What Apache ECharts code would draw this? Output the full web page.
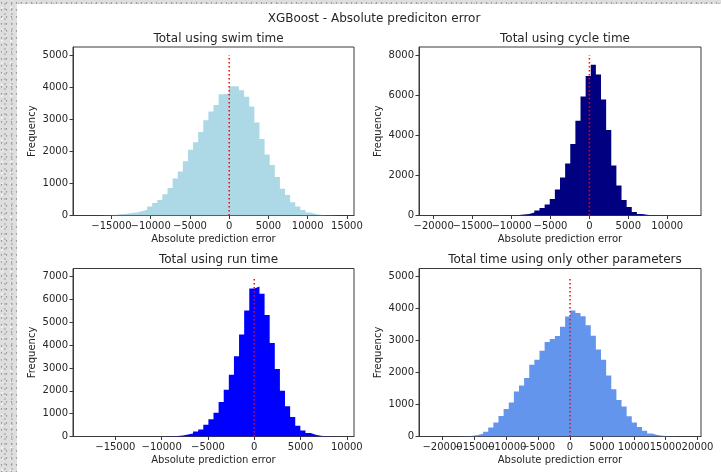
<!DOCTYPE html>
<html>
<head>
<meta charset="utf-8">
<script src="https://cdn.jsdelivr.net/npm/echarts@6/dist/echarts.min.js"></script>
<style>
  html, body { margin: 0; padding: 0; }
  body {
    width: 721px; height: 472px; overflow: hidden; position: relative;
    background-color: #dedede;
    background-image:
      radial-gradient(circle at 30% 40%, #9c9c9c 0.6px, transparent 1.1px),
      radial-gradient(circle at 70% 80%, #b4b4b4 0.6px, transparent 1.1px),
      radial-gradient(circle at 20% 70%, #f4f4f4 0.8px, transparent 1.3px);
    background-size: 5px 7px, 7px 5px, 9px 11px;
  }
  #sheet { position: absolute; left: 17px; top: 4px; width: 704px; height: 468px; background: #fff; }
  #chart { position: absolute; left: 0; top: 0; width: 721px; height: 472px; }
</style>
</head>
<body>
<div id="sheet"></div>
<div id="chart"></div>
<script>
// Outer bin edges [first, last] and 50 bin counts for each histogram
const swimEdges = [-18273, 14273];
const swimCounts = [
  0, 0, 2, 5, 10, 25, 40, 55, 75, 95,
  130, 180, 280, 390, 480, 660, 860, 1150, 1370, 1690,
  2050, 2280, 2600, 2970, 3240, 3440, 3780, 3800, 4030, 4020,
  3900, 3700, 3400, 2900, 2380, 1900, 1570, 1200, 830, 640,
  410, 280, 170, 90, 45, 20, 10, 5, 2, 1
];

const cycleEdges = [-20242, 12689];
const cycleCounts = [
  1, 0, 0, 1, 1, 1, 1, 1, 1, 1,
  1, 1, 2, 4, 8, 15, 30, 50, 80, 150,
  250, 370, 550, 820, 1290, 1900, 2590, 3570, 4720, 5930,
  6960, 7520, 7030, 5780, 4260, 2490, 1500, 770, 420, 180,
  80, 35, 15, 7, 3, 2, 1, 0, 0, 1
];

const runEdges = [-18196, 9396];
const runCounts = [
  1, 0, 0, 1, 1, 1, 1, 1, 1, 1,
  1, 1, 1, 2, 3, 6, 12, 25, 45, 90,
  130, 220, 310, 510, 750, 1040, 1510, 2050, 2700, 3510,
  4460, 5510, 6480, 6560, 6240, 5320, 4090, 2950, 2000, 1320,
  850, 470, 260, 150, 75, 35, 15, 6, 3, 1
];

const otherEdges = [-21679, 18535];
const otherCounts = [
  1, 0, 1, 1, 2, 5, 10, 20, 45, 85,
  150, 280, 440, 640, 860, 1060, 1410, 1590, 1830, 2240,
  2400, 2680, 2950, 3050, 3140, 3430, 3750, 3935, 3860, 3760,
  3475, 3150, 2720, 2400, 1910, 1480, 1140, 940, 630, 440,
  300, 180, 95, 50, 25, 10, 5, 2, 1, 1
];

// Axis limits and tick values
const swimXLim = [-19900, 15900];
const cycleXLim = [-21888, 14335];
const runXLim = [-19576, 10776];
const otherXLim = [-23690, 20545];

const swimXTicks = [-15000, -10000, -5000, 0, 5000, 10000, 15000];
const cycleXTicks = [-20000, -15000, -10000, -5000, 0, 5000, 10000];
const runXTicks = [-15000, -10000, -5000, 0, 5000, 10000];
const otherXTicks = [-20000, -15000, -10000, -5000, 0, 5000, 10000, 15000, 20000];

const swimYTicks = [0, 1000, 2000, 3000, 4000, 5000];
const cycleYTicks = [0, 2000, 4000, 6000, 8000];
const runYTicks = [0, 1000, 2000, 3000, 4000, 5000, 6000, 7000];
const otherYTicks = [0, 1000, 2000, 3000, 4000, 5000];

// Height of the zero reference line in each panel
const zeroLineTop = [5000, 8000, 7000, 5000];

const panelTitles = [
  'Total using swim time',
  'Total using cycle time',
  'Total using run time',
  'Total time using only other parameters'
];
const figureTitle = 'XGBoost - Absolute prediciton error';

const FONT = 'DejaVu Sans';
const INK = '#262626';
const SPINE = '#3a3a3a';

const panels = [
  { edges: swimEdges, counts: swimCounts, xlim: swimXLim, xt: swimXTicks, yt: swimYTicks, ymax: 5250, color: '#ADD8E6',
    grid: { left: 73, top: 47, width: 281, height: 168.5 }, titleTop: 28 },
  { edges: cycleEdges, counts: cycleCounts, xlim: cycleXLim, xt: cycleXTicks, yt: cycleYTicks, ymax: 8400, color: '#000080',
    grid: { left: 419, top: 47, width: 282, height: 168.5 }, titleTop: 28 },
  { edges: runEdges, counts: runCounts, xlim: runXLim, xt: runXTicks, yt: runYTicks, ymax: 7350, color: '#0000FF',
    grid: { left: 73, top: 268.5, width: 281, height: 168 }, titleTop: 249 },
  { edges: otherEdges, counts: otherCounts, xlim: otherXLim, xt: otherXTicks, yt: otherYTicks, ymax: 5250, color: '#6495ED',
    grid: { left: 419, top: 268.5, width: 282, height: 168 }, titleTop: 249 }
];

// Step outline of a histogram: down the left edge, across each bin top, back to the baseline
function stepOutline(edges, counts) {
  const w = (edges[1] - edges[0]) / counts.length;
  const pts = [[edges[0], 0]];
  counts.forEach((c, i) => {
    pts.push([edges[0] + i * w, c]);
    pts.push([edges[0] + (i + 1) * w, c]);
  });
  pts.push([edges[1], 0]);
  return pts;
}

const fmt = v => (v < 0 ? '\u2212' + Math.abs(v) : String(v));

const grids = [], xAxes = [], yAxes = [], series = [], titles = [];

titles.push({
  text: figureTitle, left: 369, top: 8, textAlign: 'center',
  textStyle: { fontFamily: FONT, fontSize: 12, fontWeight: 'normal', color: INK }
});

function bottomAxis(p, i, values, withName) {
  return {
    type: 'value', gridIndex: i, position: 'bottom', offset: 0, min: p.xlim[0], max: p.xlim[1],
    name: withName ? 'Absolute prediction error' : '', nameLocation: 'middle', nameGap: 19,
    nameTextStyle: { fontFamily: FONT, fontSize: 10, color: INK },
    axisLine: { show: withName, onZero: false, lineStyle: { color: SPINE, width: 1 } },
    axisTick: { show: true, customValues: values, length: 3.5, lineStyle: { color: SPINE, width: 1 } },
    axisLabel: { customValues: values, formatter: fmt, margin: 5.5, fontFamily: FONT, fontSize: 10, color: INK,
                 hideOverlap: false, showMinLabel: true, showMaxLabel: true },
    splitLine: { show: false }
  };
}

panels.forEach((p, i) => {
  grids.push(Object.assign({ show: true, borderColor: SPINE, borderWidth: 1, backgroundColor: 'transparent' }, p.grid));
  titles.push({
    text: panelTitles[i], left: p.grid.left + p.grid.width / 2, top: p.titleTop, textAlign: 'center',
    textStyle: { fontFamily: FONT, fontSize: 12, fontWeight: 'normal', color: INK }
  });

  // Alternate tick labels go on two coincident bottom axes so that touching labels all stay visible
  const xIdx = xAxes.length;
  xAxes.push(bottomAxis(p, i, p.xt.filter((v, k) => k % 2 === 0), true));
  xAxes.push(bottomAxis(p, i, p.xt.filter((v, k) => k % 2 === 1), false));

  yAxes.push({
    type: 'value', gridIndex: i, min: 0, max: p.ymax,
    name: 'Frequency', nameLocation: 'middle', nameGap: 36, nameRotate: 90,
    nameTextStyle: { fontFamily: FONT, fontSize: 10, color: INK },
    axisLine: { show: true, onZero: false, lineStyle: { color: SPINE, width: 1 } },
    axisTick: { show: true, customValues: p.yt, length: 3.5, lineStyle: { color: SPINE, width: 1 } },
    axisLabel: { customValues: p.yt, formatter: fmt, margin: 5, fontFamily: FONT, fontSize: 10, color: INK,
                 showMinLabel: true, showMaxLabel: true },
    splitLine: { show: false }
  });

  series.push({
    type: 'line', xAxisIndex: xIdx, yAxisIndex: i, symbol: 'none', silent: true, z: 2,
    data: stepOutline(p.edges, p.counts),
    lineStyle: { width: 0 },
    areaStyle: { color: p.color, opacity: 1, origin: 'start' }
  });
  series.push({
    type: 'line', xAxisIndex: xIdx, yAxisIndex: i, symbol: 'none', silent: true, z: 5,
    data: [[0, 0], [0, zeroLineTop[i]]],
    lineStyle: { color: '#FF0000', width: 1.5, type: [1.5, 2.5] }
  });
});

const chart = echarts.init(document.getElementById('chart'), null, { renderer: 'canvas' });
chart.setOption({
  animation: false,
  backgroundColor: 'transparent',
  title: titles,
  grid: grids,
  xAxis: xAxes,
  yAxis: yAxes,
  series: series
});
</script>
</body>
</html>
